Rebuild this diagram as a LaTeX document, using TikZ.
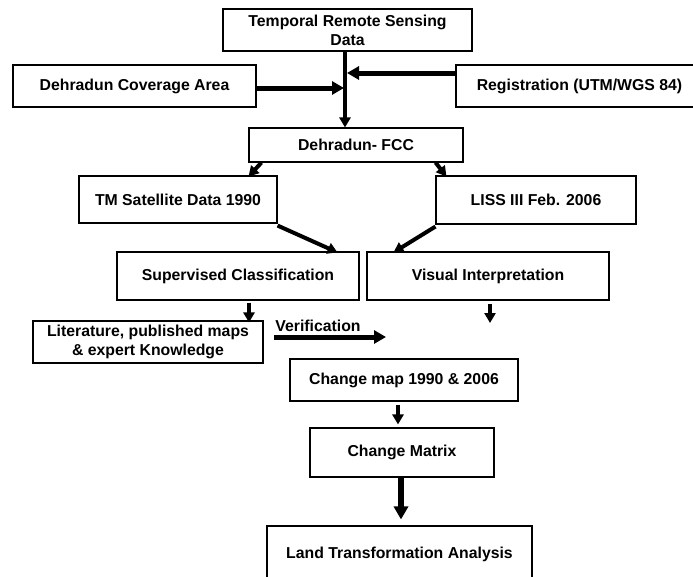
\documentclass[tikz,border=0pt]{standalone}
\usepackage{fontspec}
\setmainfont{Liberation Sans}
\usetikzlibrary{arrows.meta,calc}
\begin{document}
\begin{tikzpicture}[x=1pt,y=-1pt,
  box/.style={draw, line width=1.1pt, inner sep=0pt, align=center,
    font=\bfseries\fontsize{15.8}{19}\selectfont},
  lbl/.style={inner sep=0pt, font=\bfseries\fontsize{15.8}{19}\selectfont},
  fat/.style={line width=5pt, -{Triangle[width=13pt,length=12pt]}},
  thin/.style={line width=4pt, -{Triangle[width=11pt,length=10pt]}},
  huge/.style={line width=6pt, -{Triangle[width=14pt,length=13pt]}}]
\useasboundingbox (0,0) rectangle (693,576);
\clip (0,0) rectangle (693,576);
\fill[white] (0,0) rectangle (693,576);

\node[box, minimum width=249pt, minimum height=42pt] (T) at (347.5,30) {Temporal Remote Sensing\\Data};
\node[box, minimum width=243pt, minimum height=42pt] (Cov) at (134.5,86) {Dehradun Coverage Area};
\node[box, minimum width=247pt, minimum height=42pt] (Reg) at (579.5,86) {Registration (UTM/WGS 84)};
\node[box, minimum width=214pt, minimum height=34pt] (F) at (356,145) {Dehradun- FCC};
\node[box, minimum width=198pt, minimum height=47pt] (TM) at (178,199.5) {TM Satellite Data 1990};
\node[box, minimum width=200pt, minimum height=48pt] (L) at (536,200) {LISS III Feb. 2006};
\node[box, minimum width=242pt, minimum height=48pt] (S) at (238,276) {Supervised Classification};
\node[box, minimum width=242pt, minimum height=48pt] (V) at (488,276) {Visual Interpretation};
\node[box, minimum width=230pt, minimum height=42pt] (Lit) at (148,342) {Literature, published maps\\\& expert Knowledge};
\node[box, minimum width=228pt, minimum height=42pt] (CM) at (404,380) {Change map 1990 \& 2006};
\node[box, minimum width=184pt, minimum height=49pt] (MX) at (402,452.5) {Change Matrix};
\node[box, minimum width=265pt, minimum height=56pt] (LT) at (399.5,554) {Land Transformation Analysis};
\node[lbl] (ver) at (318,326) {Verification};

% junctions and free ends
\coordinate (jx) at (345,0);
\coordinate (jc) at (344,88);
\coordinate (jr) at (347,73);
\coordinate (sx) at (249,0);
\coordinate (va) at (274,337);
\coordinate (vb) at (386,337);
\coordinate (vd) at (490,323);
\coordinate (cx) at (398,0);
\coordinate (mx) at (401,0);

\draw[thin] (T.south -| jx) -- (F.north -| jx);
\draw[fat] (Cov.east |- jc) -- (jc);
\draw[fat] (Reg.west |- jr) -- (jr);
\draw[thin] ($(F.south west)+(13,0)$) -- ($(TM.north east)+(-29,1)$);
\draw[thin] ($(F.south east)+(-28,0)$) -- ($(L.north west)+(11,1)$);
\draw[thin] ($(TM.south east)+(0,2)$) -- ($(S.north east)+(-22,1)$);
\draw[thin] ($(L.south west)+(0,2)$) -- ($(V.north west)+(27,1)$);
\draw[thin] ($(S.south -| sx)+(0,2)$) -- ($(Lit.north -| sx)+(0,2)$);
\draw[fat] (va) -- (vb);
\draw[thin] ($(V.south -| vd)+(0,3)$) -- (vd);
\draw[thin] ($(CM.south -| cx)+(0,3)$) -- ($(MX.north -| cx)+(0,-3)$);
\draw[huge] (MX.south -| mx) -- ($(LT.north -| mx)+(0,-6)$);
\end{tikzpicture}
\end{document}
